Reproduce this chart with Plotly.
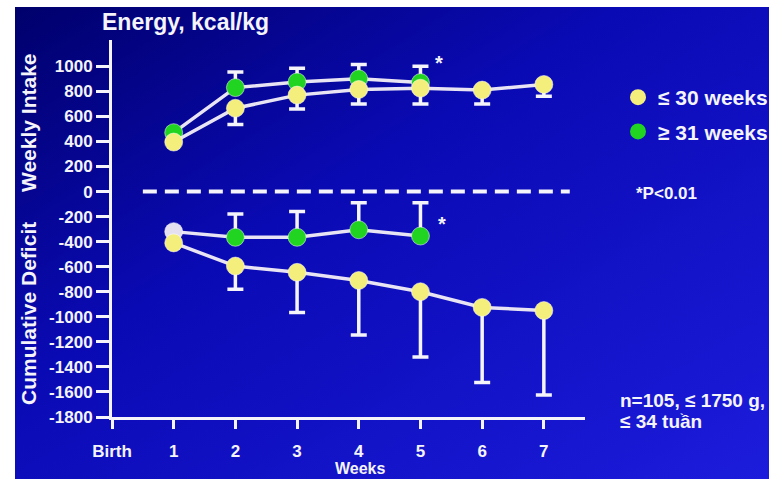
import base64
import plotly.graph_objects as go

# ---- data -------------------------------------------------------------
weeks = [1, 2, 3, 4, 5, 6, 7]
weeks_late = [1, 2, 3, 4, 5]

# weekly energy intake (kcal/kg)
intake_early = [395, 665, 770, 815, 825, 810, 855]          # <= 30 weeks GA
intake_early_sd = [0, 130, 110, 115, 125, 110, 95]
intake_late = [470, 830, 875, 900, 870]                     # >= 31 weeks GA
intake_late_sd = [0, 125, 110, 115, 130]

# cumulative energy deficit (kcal/kg)
deficit_early = [-410, -595, -645, -710, -800, -925, -950]
deficit_early_sd = [0, 185, 320, 435, 520, 600, 675]
deficit_late = [-320, -365, -365, -305, -355]
deficit_late_sd = [0, 185, 205, 215, 265]

x_ticks = [0, 1, 2, 3, 4, 5, 6, 7]
x_labels = ["Birth", "1", "2", "3", "4", "5", "6", "7"]
y_ticks = list(range(-1800, 1001, 200))
y_labels = [str(v) for v in y_ticks]

# ---- styling ----------------------------------------------------------
FONT = "Liberation Sans, Arial, sans-serif"
YELLOW = "#f4ef7c"
GREEN = "#22d422"
PALE = "#e4e0f0"
LINE = "#e8e4f4"
WHITE = "#f4f4fa"

W, H = 769, 479
L, R, T, B = 112, 184, 40, 62
PW, PH = W - L - R, H - T - B


def px(x):
    return (x - L) / PW


def py(y):
    return (H - B - y) / PH


def series(x, y, sd, colors, upper):
    err = dict(
        type="data", symmetric=False,
        array=sd if upper else [0] * len(sd),
        arrayminus=[0] * len(sd) if upper else sd,
        color=WHITE, thickness=3.5, width=8,
    )
    return go.Scatter(
        x=x, y=y, mode="lines+markers", showlegend=False,
        line=dict(color=LINE, width=3.5),
        marker=dict(size=18, color=colors, line=dict(width=1, color="rgba(255,255,255,0.5)")),
        error_y=err, hoverinfo="skip",
    )


fig = go.Figure()
fig.add_trace(series(weeks_late, intake_late, intake_late_sd, GREEN, True))
fig.add_trace(series(weeks_late, deficit_late, deficit_late_sd,
                     [PALE] + [GREEN] * 4, True))
fig.add_trace(series(weeks, intake_early, intake_early_sd, YELLOW, False))
fig.add_trace(series(weeks, deficit_early, deficit_early_sd, YELLOW, False))

# legend entries
for i, (name, col) in enumerate([("\u2264 30 weeks", YELLOW), ("\u2265 31 weeks", GREEN)]):
    fig.add_trace(go.Scatter(x=[None], y=[None], mode="markers", name=name,
                             legendgroup=f"g{i}",
                             marker=dict(size=18, color=col)))

# zero reference line
fig.add_shape(type="line", xref="x", yref="y", x0=0.5, x1=7.42, y0=0, y1=0,
              line=dict(color=WHITE, width=4, dash="14px,8px"), layer="below")

# blue gradient backdrop
svg = (
    '<svg xmlns="http://www.w3.org/2000/svg" width="754" height="472" '
    'preserveAspectRatio="none" viewBox="0 0 754 472">'
    '<defs><linearGradient id="g" x1="0" y1="0" x2="1" y2="1">'
    '<stop offset="0" stop-color="#00006c"/>'
    '<stop offset="0.4" stop-color="#0a0ab4"/>'
    '<stop offset="1" stop-color="#1c1cdc"/>'
    '</linearGradient></defs>'
    '<rect width="754" height="472" fill="url(#g)"/></svg>'
)
src = "data:image/svg+xml;base64," + base64.b64encode(svg.encode()).decode()
fig.add_layout_image(dict(
    source=src, xref="paper", yref="paper",
    x=px(15), y=py(7), sizex=754 / PW, sizey=472 / PH,
    xanchor="left", yanchor="top", sizing="stretch", layer="below",
))

bold = dict(family=FONT, color=WHITE, weight="bold")
ann = [
    dict(text="Energy, kcal/kg", x=px(100), y=py(22), xanchor="left", size=23),
    dict(text="Weekly Intake", x=px(28), y=py(123), xanchor="center", size=21, angle=-90),
    dict(text="Cumulative Deficit", x=px(28), y=py(314), xanchor="center", size=21, angle=-90),
    dict(text="Weeks", x=px(360), y=py(468), xanchor="center", size=16),
    dict(text="*P<0.01", x=px(634), y=py(193), xanchor="left", size=17),
    dict(text="n=105, \u2264 1750 g,", x=px(618), y=py(400), xanchor="left", size=19),
    dict(text="\u2264 34 tu\u1ea7n", x=px(618), y=py(422), xanchor="left", size=19),
]
for a in ann:
    fig.add_annotation(text=a["text"], xref="paper", yref="paper", x=a["x"], y=a["y"],
                       xanchor=a["xanchor"], yanchor="middle", showarrow=False,
                       textangle=a.get("angle", 0),
                       font=dict(bold, size=a["size"]))

# significance markers
for xs, ys in [(5.3, 1030), (5.35, -260)]:
    fig.add_annotation(text="*", x=xs, y=ys, xref="x", yref="y", showarrow=False,
                       font=dict(bold, size=20))

axis_common = dict(showline=True, linecolor=WHITE, linewidth=3, ticks="outside",
                   tickcolor=WHITE, tickwidth=3, showgrid=False, zeroline=False,
                   tickfont=dict(bold, size=17))
fig.update_xaxes(range=[0, 7.667], tickvals=x_ticks, ticktext=x_labels, ticklen=9,
                 ticklabelstandoff=8, **axis_common)
fig.update_yaxes(range=[-1800, 1210], tickvals=y_ticks, ticktext=y_labels, ticklen=13,
                 **axis_common)

fig.update_layout(
    width=W, height=H, margin=dict(l=L, r=R, t=T, b=B, autoexpand=False),
    paper_bgcolor="white", plot_bgcolor="rgba(0,0,0,0)",
    showlegend=True,
    legend=dict(x=px(618), y=py(77), xanchor="left", yanchor="top",
                bgcolor="rgba(0,0,0,0)", font=dict(bold, size=21),
                traceorder="grouped", tracegroupgap=4, itemsizing="trace"),
)

fig.write_html("out.html")
